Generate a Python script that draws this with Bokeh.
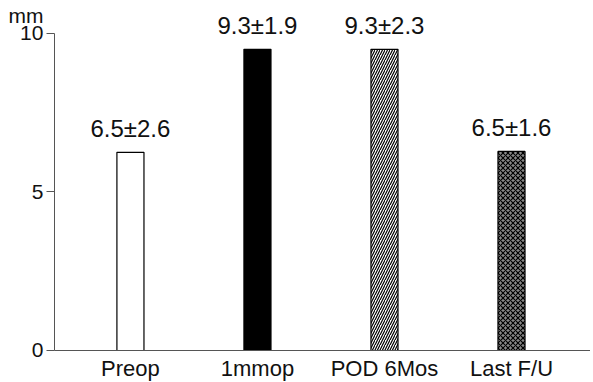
from bokeh.plotting import figure
from bokeh.models import ColumnDataSource, FixedTicker, Range1d
from bokeh.core.properties import value
from bokeh.embed import file_html
from bokeh.resources import INLINE

categories = ["Preop", "1mmop", "POD 6Mos", "Last F/U"]
values = [6.25, 9.5, 9.5, 6.28]
labels = ["6.5\u00b12.6", "9.3\u00b11.9", "9.3\u00b12.3", "6.5\u00b11.6"]
fills = ["white", "black", "white", "#888888"]
hatches = [" ", " ", "right_diagonal_line", "diagonal_cross"]
y_ticks = [0, 5, 10]
y_tick_labels = ["0", "5", "10"]
y_unit = "mm"

xs = list(range(len(categories)))
src = ColumnDataSource(dict(x=xs, top=values, lab=labels, fill=fills, hatch=hatches,
                            cat=categories, zero=[0] * len(xs)))

FONT = "Liberation Sans"
AX = "#555555"
TXT = "#111111"
X0 = -0.598
X1 = 3.622

p = figure(width=590, height=382, output_backend="svg", toolbar_location=None,
           x_range=Range1d(-1.023, X1), y_range=Range1d(-1.01, 11.04),
           min_border_left=0, min_border_right=0, min_border_top=0, min_border_bottom=0)
p.outline_line_color = None
p.grid.visible = False

p.vbar(x="x", top="top", width=0.213, bottom=0, source=src, fill_color="fill",
       line_color="black", line_width=1.2, hatch_pattern="hatch", hatch_color="black",
       hatch_scale=5, hatch_weight=1.2)

p.text(x="x", y="top", text="lab", source=src, text_align="center",
       text_baseline="bottom", y_offset=-10, text_font=value(FONT),
       text_font_size="24px", text_color=TXT)

# y axis: line and ticks from the library axis, labels as text
ya = p.yaxis[0]
ya.fixed_location = X0
ya.ticker = FixedTicker(ticks=y_ticks)
ya.bounds = (0, 10)
ya.axis_line_color = AX
ya.major_tick_line_color = AX
ya.major_tick_out = 8
ya.major_tick_in = 0
ya.minor_tick_line_color = None
ya.major_label_text_color = None

ysrc = ColumnDataSource(dict(y=y_ticks, t=y_tick_labels, x=[X0] * len(y_ticks)))
p.text(x="x", y="y", text="t", source=ysrc, x_offset=-11, text_align="right",
       text_baseline="middle", text_font=value(FONT), text_font_size="21px", text_color=TXT)
p.text(x=[X0], y=[y_ticks[-1]], text=[y_unit], x_offset=-11, y_offset=-18,
       text_align="right", text_baseline="middle", text_font=value(FONT),
       text_font_size="21px", text_color=TXT)

# x axis line from the library axis, category labels as text
xa = p.xaxis[0]
xa.fixed_location = 0
xa.ticker = FixedTicker(ticks=xs)
xa.bounds = (X0, X1)
xa.axis_line_color = AX
xa.major_tick_line_color = None
xa.minor_tick_line_color = None
xa.major_label_text_color = None

p.text(x="x", y="zero", text="cat", source=src, y_offset=6, text_align="center",
       text_baseline="top", text_font=value(FONT), text_font_size="22px",
       text_color=TXT)

open("out.html", "w").write(file_html(p, INLINE))
